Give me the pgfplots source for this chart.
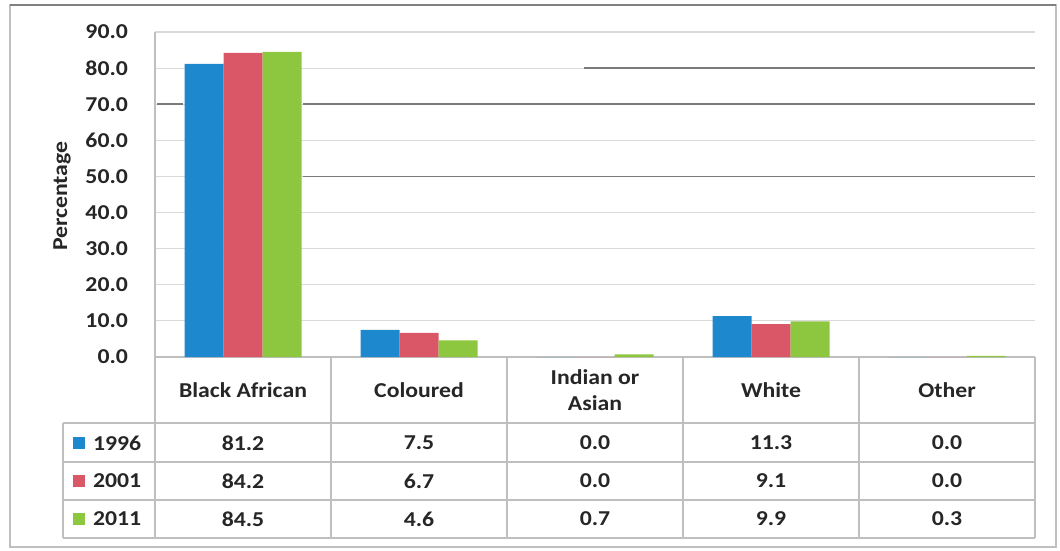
\documentclass[border=0pt]{standalone}
\usepackage{fontspec}
\setmainfont{Carlito}[FakeStretch=1.12]
\usepackage{pgfplots}
\pgfplotsset{compat=1.18}
\usepackage{pgfplotstable}

\definecolor{c96}{HTML}{1E88CF}
\definecolor{c01}{HTML}{D95766}
\definecolor{c11}{HTML}{8DC63F}
\definecolor{gridc}{HTML}{D9D9D9}
\definecolor{tablec}{HTML}{BFBFBF}
\definecolor{scanc}{HTML}{7A7A7A}
\definecolor{txt}{HTML}{262626}

\newcommand\chartfont{\fontsize{10.6}{13}\selectfont\bfseries\color{txt}}

% population group shares (%), one row per group
\pgfplotstableread{
x y1996 y2001 y2011
0 81.2 84.2 84.5
1 7.5 6.7 4.6
2 0.0 0.0 0.7
3 11.3 9.1 9.9
4 0.0 0.0 0.3
}\shares

\begin{document}
\begin{tikzpicture}[x=0.5pt, y=-0.5pt]
\useasboundingbox (0,0) rectangle (1060,551);
% chart frame
\draw[tablec, line width=0.6pt] (10,5) rectangle (1056,547);
\draw[gray, line width=0.8pt] (10,5) -- (1056,5);
\coordinate (plotsw) at (155,357);

\begin{axis}[
  at={(plotsw)}, anchor=south west,
  width=440pt, height=162.5pt, scale only axis,
  xmin=-0.5, xmax=4.5, ymin=0, ymax=90,
  ytick={0,10,...,90},
  xtick={0,...,4},
  xticklabels={Black African, Coloured, {Indian or\\Asian}, White, Other},
  xticklabel style={align=center, anchor=center, yshift=-16.5pt, font=\chartfont},
  yticklabel style={font=\chartfont, anchor=east, xshift=-10pt},
  /pgf/number format/.cd, fixed, fixed zerofill, precision=1, assume math mode=true,
  /pgfplots/.cd,
  major tick length=0pt,
  axis x line*=bottom, axis y line*=left,
  axis line style={-, draw=tablec, line width=0.6pt},
  ymajorgrids, major grid style={gridc, line width=0.6pt},
  ybar=0pt, bar width=19.5pt,
  clip=false,
]
% dark scan streaks across the grid
\draw[scanc, line width=0.9pt] (axis cs:-0.49,70) -- (axis cs:-0.34,70);
\draw[scanc, line width=0.9pt] (axis cs:0.34,70) -- (axis cs:4.5,70);
\draw[scanc, line width=0.9pt] (axis cs:0.34,50) -- (axis cs:4.5,50);
\draw[scanc, line width=0.9pt] (axis cs:1.94,80) -- (axis cs:4.5,80);

\addplot[fill=c96, draw=none] table[x=x, y=y1996] {\shares};
\addplot[fill=c01, draw=none] table[x=x, y=y2001] {\shares};
\addplot[fill=c11, draw=none] table[x=x, y=y2011] {\shares};
\end{axis}

% y axis title
\node[rotate=90, font=\chartfont] at (62,196) {Percentage};

% data table grid
\foreach \yy in {423,462,500,538} \draw[tablec, line width=0.6pt] (63,\yy) -- (1035,\yy);
\foreach \xx in {155,331,507,683,859,1035} \draw[tablec, line width=0.6pt] (\xx,357) -- (\xx,538);
\draw[tablec, line width=0.6pt] (63,423) -- (63,538);

% legend keys and years
\fill[c96] (73,437) rectangle (85,449);
\fill[c01] (73,475) rectangle (85,487);
\fill[c11] (73,513) rectangle (85,525);
\node[font=\chartfont, anchor=west] at (86,443) {1996};
\node[font=\chartfont, anchor=west] at (86,481) {2001};
\node[font=\chartfont, anchor=west] at (86,519) {2011};

% table values
\foreach \r/\cx in {0/243,1/419,2/595,3/771,4/947}{
  \foreach \col/\cy in {y1996/443,y2001/481,y2011/519}{
    \pgfplotstablegetelem{\r}{\col}\of\shares
    \let\val\pgfplotsretval
    \node[font=\chartfont] at (\cx,\cy)
      {\pgfmathprintnumber[fixed, fixed zerofill, precision=1, assume math mode=true]{\val}};
  }
}
\end{tikzpicture}
\end{document}
